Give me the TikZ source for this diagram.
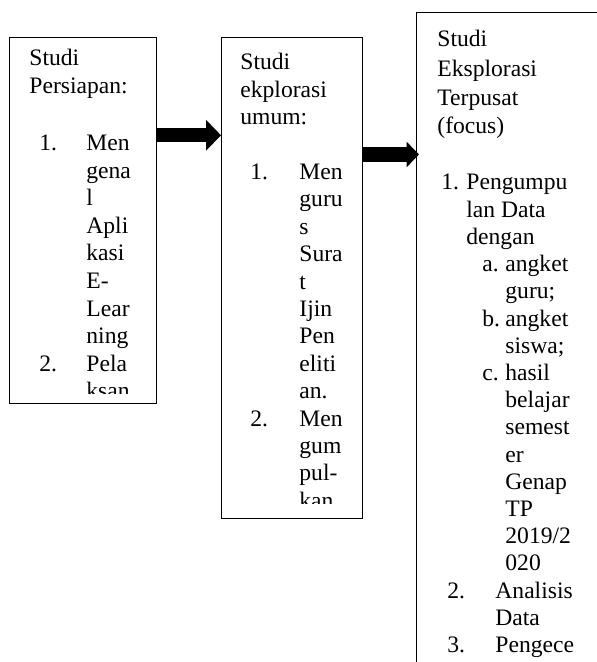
\documentclass[tikz,border=0pt]{standalone}
\usepackage{fontspec}
\setmainfont{Liberation Serif}
\usetikzlibrary{arrows.meta}
\begin{document}
\begin{tikzpicture}[x=0.5pt,y=-0.5pt,
  box/.style={draw, line width=0.6pt, anchor=north west, inner sep=0pt},
  txt/.style={anchor=base west, inner sep=0pt, font=\fontsize{11.8}{13.6}\selectfont},
  arrowA/.style={line width=7pt, -{Triangle[length=7.5pt,width=15pt]}},
  arrowB/.style={line width=7.2pt, -{Triangle[length=6.2pt,width=12.4pt]}, shorten >=-1.5pt}]
\useasboundingbox (0,0) rectangle (597,662);
\clip (0,0) rectangle (597,662);
% boxes
\node[box, minimum width=73.5pt, minimum height=183pt] (b1) at (9,37) {};
\node[box, minimum width=70.5pt, minimum height=240.5pt] (b2) at (221,37) {};
\node[box, minimum width=142pt, minimum height=354pt] (b3) at (416,12) {};
% arrows
\draw[arrowA] (b1.east |- 0,135.3) -- (b2.west |- 0,135.3);
\draw[arrowB] (b2.east |- 0,154.5) -- (b3.west |- 0,154.5);
% box 1 text
\begin{scope}
\clip (9,37) rectangle (156,393.5);
\node[txt] (h11) at (29,66) {Studi};
\node[txt] (h12) at (29,94) {Persiapan:};
\node[txt] (n11) at (39,151) {1.};
\node[txt] (n12) at (39,151+27.5*8) {2.};
\foreach \t [count=\i from 0] in {Men,gena,l,Apli,kasi,E-,Lear,ning,Pela,ksan}
  \node[txt] (a\i) at (86,151+27.5*\i) {\t};
\end{scope}
% box 2 text
\begin{scope}
\clip (221,37) rectangle (362,503.5);
\node[txt] (h21) at (240,70) {Studi};
\node[txt] (h22) at (240,97.5) {ekplorasi};
\node[txt] (h23) at (240,125) {umum:};
\node[txt] (n21) at (250,179.5) {1.};
\node[txt] (n22) at (250,179.5+27.4*9) {2.};
\foreach \t [count=\i from 0] in {Men,guru,s,Sura,t,Ijin,Pen,eliti,an.,Men,gum,pul-,kan}
  \node[txt] (c\i) at (299,179.5+27.4*\i) {\t};
\end{scope}
% box 3 text
\node[txt] (h31) at (437,47) {Studi};
\node[txt] (h32) at (437,77) {Eksplorasi};
\node[txt] (h33) at (437,105.5) {Terpusat};
\node[txt] (h34) at (437,133.5) {(focus)};
\node[txt] (n31) at (441,190) {1.};
\node[txt] (d0) at (466,190) {Pengumpu};
\node[txt] (d1) at (466,190+27.2*1) {lan Data};
\node[txt] (d2) at (466,190+27.2*2) {dengan};
\node[txt] (m1) at (482,190+27.2*3) {a.};
\node[txt] (d3) at (505,190+27.2*3) {angket};
\node[txt] (d4) at (505,190+27.2*4) {guru;};
\node[txt] (m2) at (482,190+27.2*5) {b.};
\node[txt] (d5) at (505,190+27.2*5) {angket};
\node[txt] (d6) at (505,190+27.2*6) {siswa;};
\node[txt] (m3) at (482,190+27.2*7) {c.};
\node[txt] (d7) at (505,190+27.2*7) {hasil};
\node[txt] (d8) at (505,190+27.2*8) {belajar};
\node[txt] (d9) at (505,190+27.2*9) {semest};
\node[txt] (d10) at (505,190+27.2*10) {er};
\node[txt] (d11) at (505,190+27.2*11) {Genap};
\node[txt] (d12) at (505,190+27.2*12) {TP};
\node[txt] (d13) at (505,190+27.2*13) {2019/2};
\node[txt] (d14) at (505,190+27.2*14) {020};
\node[txt] (n32) at (447,190+27.2*15) {2.};
\node[txt] (d15) at (495,190+27.2*15) {Analisis};
\node[txt] (d16) at (495,190+27.2*16) {Data};
\node[txt] (n33) at (447,190+27.2*17) {3.};
\node[txt] (d17) at (495,190+27.2*17) {Pengece};
\end{tikzpicture}
\end{document}
